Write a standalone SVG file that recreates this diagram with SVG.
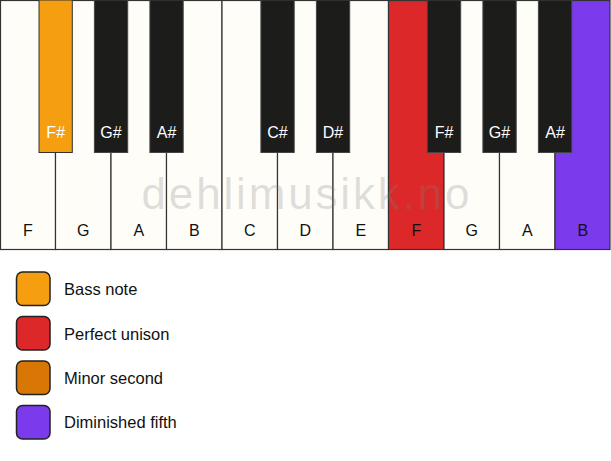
<svg xmlns="http://www.w3.org/2000/svg" width="611" height="461" viewBox="0 0 611 461">
<style>
.w{fill:#fffdf8;stroke:#333;stroke-width:1.2}
.b{fill:#1c1c1b;stroke:#444;stroke-width:1}
.lw{font-family:"Liberation Sans",Arial,sans-serif;font-size:16px;fill:#111;text-anchor:middle}
.lb{font-family:"Liberation Sans",Arial,sans-serif;font-size:16px;fill:#fff;text-anchor:middle}
.lg{font-family:"Liberation Sans",Arial,sans-serif;font-size:16.5px;fill:#111}
.sw{stroke:#222;stroke-width:1.5}
.wm{font-family:"Liberation Sans",Arial,sans-serif;font-size:44px;fill:#808080;fill-opacity:0.25;text-anchor:middle}
</style>
<rect width="611" height="461" fill="#ffffff"/>
<g id="white-keys">
<g id="key-F1"><rect class="w" x="0.5" y="0.5" width="55" height="249"/><text class="lw" x="28" y="236">F</text></g>
<g id="key-G1"><rect class="w" x="55.5" y="0.5" width="55.5" height="249"/><text class="lw" x="83.3" y="236">G</text></g>
<g id="key-A1"><rect class="w" x="111" y="0.5" width="55.5" height="249"/><text class="lw" x="138.8" y="236">A</text></g>
<g id="key-B1"><rect class="w" x="166.5" y="0.5" width="55.5" height="249"/><text class="lw" x="194.3" y="236">B</text></g>
<g id="key-C"><rect class="w" x="222" y="0.5" width="55.5" height="249"/><text class="lw" x="249.8" y="236">C</text></g>
<g id="key-D"><rect class="w" x="277.5" y="0.5" width="55.5" height="249"/><text class="lw" x="305.3" y="236">D</text></g>
<g id="key-E"><rect class="w" x="333" y="0.5" width="55.5" height="249"/><text class="lw" x="360.8" y="236">E</text></g>
<g id="key-F2"><rect class="w" x="388.5" y="0.5" width="55.5" height="249" style="fill:#dc2828"/><text class="lw" x="416.3" y="236">F</text></g>
<g id="key-G2"><rect class="w" x="444" y="0.5" width="55.5" height="249"/><text class="lw" x="471.8" y="236">G</text></g>
<g id="key-A2"><rect class="w" x="499.5" y="0.5" width="55.5" height="249"/><text class="lw" x="527.3" y="236">A</text></g>
<g id="key-B2"><rect class="w" x="555" y="0.5" width="55" height="249" style="fill:#7c3aed"/><text class="lw" x="582.8" y="236">B</text></g>
</g>
<g id="black-keys">
<g id="key-Fs1"><rect class="b" x="39" y="0" width="33.3" height="152.5" style="fill:#f49e10;stroke:#333"/><text class="lb" x="55.7" y="138">F#</text></g>
<g id="key-Gs1"><rect class="b" x="94.4" y="0" width="33.3" height="152.5"/><text class="lb" x="111" y="138">G#</text></g>
<g id="key-As1"><rect class="b" x="149.9" y="0" width="33.3" height="152.5"/><text class="lb" x="166.5" y="138">A#</text></g>
<g id="key-Cs"><rect class="b" x="260.9" y="0" width="33.3" height="152.5"/><text class="lb" x="277.5" y="138">C#</text></g>
<g id="key-Ds"><rect class="b" x="316.4" y="0" width="33.3" height="152.5"/><text class="lb" x="333" y="138">D#</text></g>
<g id="key-Fs2"><rect class="b" x="427.4" y="0" width="33.3" height="152.5"/><text class="lb" x="444" y="138">F#</text></g>
<g id="key-Gs2"><rect class="b" x="482.9" y="0" width="33.3" height="152.5"/><text class="lb" x="499.5" y="138">G#</text></g>
<g id="key-As2"><rect class="b" x="538.4" y="0" width="33.3" height="152.5"/><text class="lb" x="555" y="138">A#</text></g>
</g>
<text class="wm" x="305.5" y="208.5" textLength="328" lengthAdjust="spacing">dehlimusikk.no</text>
<g id="connectors"/>
<g id="legend">
<g id="legend-bass"><rect class="sw" x="16.5" y="272" width="33.5" height="33.5" rx="6" fill="#f49e10"/><text class="lg" x="64" y="295">Bass note</text></g>
<g id="legend-unison"><rect class="sw" x="16.5" y="316.5" width="33.5" height="33.5" rx="6" fill="#dc2828"/><text class="lg" x="64" y="339.5">Perfect unison</text></g>
<g id="legend-minor2"><rect class="sw" x="16.5" y="361" width="33.5" height="33.5" rx="6" fill="#d97706"/><text class="lg" x="64" y="384">Minor second</text></g>
<g id="legend-dim5"><rect class="sw" x="16.5" y="405.5" width="33.5" height="33.5" rx="6" fill="#7c3aed"/><text class="lg" x="64" y="428">Diminished fifth</text></g>
</g>
</svg>
